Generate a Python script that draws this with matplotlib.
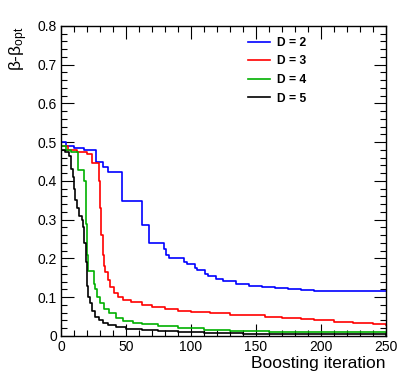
import matplotlib
matplotlib.use("Agg")
import matplotlib.pyplot as plt
from matplotlib.ticker import MultipleLocator

plt.rcParams['font.family'] = ['Liberation Sans', 'DejaVu Sans']
plt.rcParams['mathtext.default'] = 'regular'

# beta - beta_opt vs boosting iteration, one curve per depth
x_d2 = [0, 4, 10, 18, 27, 32, 36, 47, 62, 68, 79, 81, 83, 95, 97, 103, 105, 111, 113, 119,
        125, 135, 145, 155, 165, 175, 185, 195, 210, 225, 240, 250]
y_d2 = [0.50, 0.49, 0.485, 0.48, 0.45, 0.435, 0.424, 0.347, 0.285, 0.24, 0.224, 0.21, 0.20,
        0.19, 0.185, 0.175, 0.17, 0.16, 0.155, 0.148, 0.142, 0.135, 0.13, 0.127, 0.123, 0.121,
        0.119, 0.117, 0.116, 0.115, 0.115, 0.115]

x_d3 = [0, 5, 12, 20, 24, 29, 30, 31, 32, 33, 34, 36, 38, 41, 44, 48, 54, 62, 70, 80, 90, 100,
        115, 130, 145, 157, 170, 185, 195, 210, 225, 240, 250]
y_d3 = [0.49, 0.48, 0.475, 0.47, 0.445, 0.40, 0.33, 0.26, 0.21, 0.18, 0.165, 0.145, 0.125,
        0.11, 0.10, 0.093, 0.087, 0.08, 0.074, 0.069, 0.065, 0.062, 0.058, 0.055, 0.053, 0.049,
        0.046, 0.043, 0.040, 0.037, 0.034, 0.031, 0.028]

x_d4 = [0, 4, 8, 13, 18, 19, 20, 21, 25, 26, 28, 30, 33, 37, 42, 48, 55, 62, 75, 90, 110, 130,
        160, 200, 250]
y_d4 = [0.49, 0.48, 0.475, 0.427, 0.40, 0.29, 0.21, 0.168, 0.135, 0.12, 0.10, 0.085, 0.07,
        0.058, 0.046, 0.039, 0.034, 0.03, 0.025, 0.021, 0.016, 0.013, 0.011, 0.009, 0.008]

x_d5 = [0, 3, 6, 8, 9, 10, 11, 12, 14, 16, 17, 18, 19, 20, 21, 22, 24, 26, 29, 32, 36, 42, 50,
        62, 75, 90, 110, 140, 180, 250]
y_d5 = [0.48, 0.475, 0.465, 0.43, 0.41, 0.38, 0.35, 0.33, 0.31, 0.30, 0.28, 0.24, 0.19, 0.13,
        0.10, 0.085, 0.065, 0.05, 0.04, 0.033, 0.027, 0.022, 0.018, 0.015, 0.012, 0.01, 0.008,
        0.006, 0.004, 0.003]

labels = ["D = 2", "D = 3", "D = 4", "D = 5"]
colors = ["#0000ff", "#ff0000", "#00b000", "#000000"]

fig = plt.figure(figsize=(4.07, 3.87), dpi=100)
ax = fig.add_axes([0.150, 0.132, 0.798, 0.801])

series = [(x_d2, y_d2), (x_d3, y_d3), (x_d4, y_d4), (x_d5, y_d5)]
for (xs, ys), lab, col in zip(series, labels, colors):
    ax.plot(xs, ys, drawstyle="steps-post", color=col, lw=1.2, label=lab)

ax.set_xlim(0, 250)
ax.set_ylim(0, 0.8)
ax.xaxis.set_major_locator(MultipleLocator(50))
ax.xaxis.set_minor_locator(MultipleLocator(10))
ax.yaxis.set_major_locator(MultipleLocator(0.1))
ax.yaxis.set_minor_locator(MultipleLocator(0.02))
ax.yaxis.set_major_formatter(matplotlib.ticker.FuncFormatter(
    lambda v, p: "0" if abs(v) < 1e-9 else "%g" % round(v, 2)))

ax.tick_params(which="both", direction="in", top=True, right=True, labelsize=10, width=0.8)
ax.tick_params(which="major", length=9)
ax.tick_params(which="minor", length=4.5)
ax.tick_params(axis="x", pad=3)
ax.tick_params(axis="y", pad=3)
for s in ax.spines.values():
    s.set_linewidth(1.0)

ax.set_xlabel("Boosting iteration", fontsize=12.5, loc="right")
ax.xaxis.set_label_coords(1.0, -0.065)
ax.set_ylabel(r"β-β$_{opt}$", fontsize=12.5, loc="top")
ax.yaxis.set_label_coords(-0.095, 1.0)

leg = ax.legend(loc="upper left", bbox_to_anchor=(0.575, 0.965), frameon=False,
                borderpad=0, borderaxespad=0, handlelength=1.8, handletextpad=0.6,
                labelspacing=0.55, prop={"weight": "bold", "size": 8.7})

fig.savefig("out.png", dpi=100)
